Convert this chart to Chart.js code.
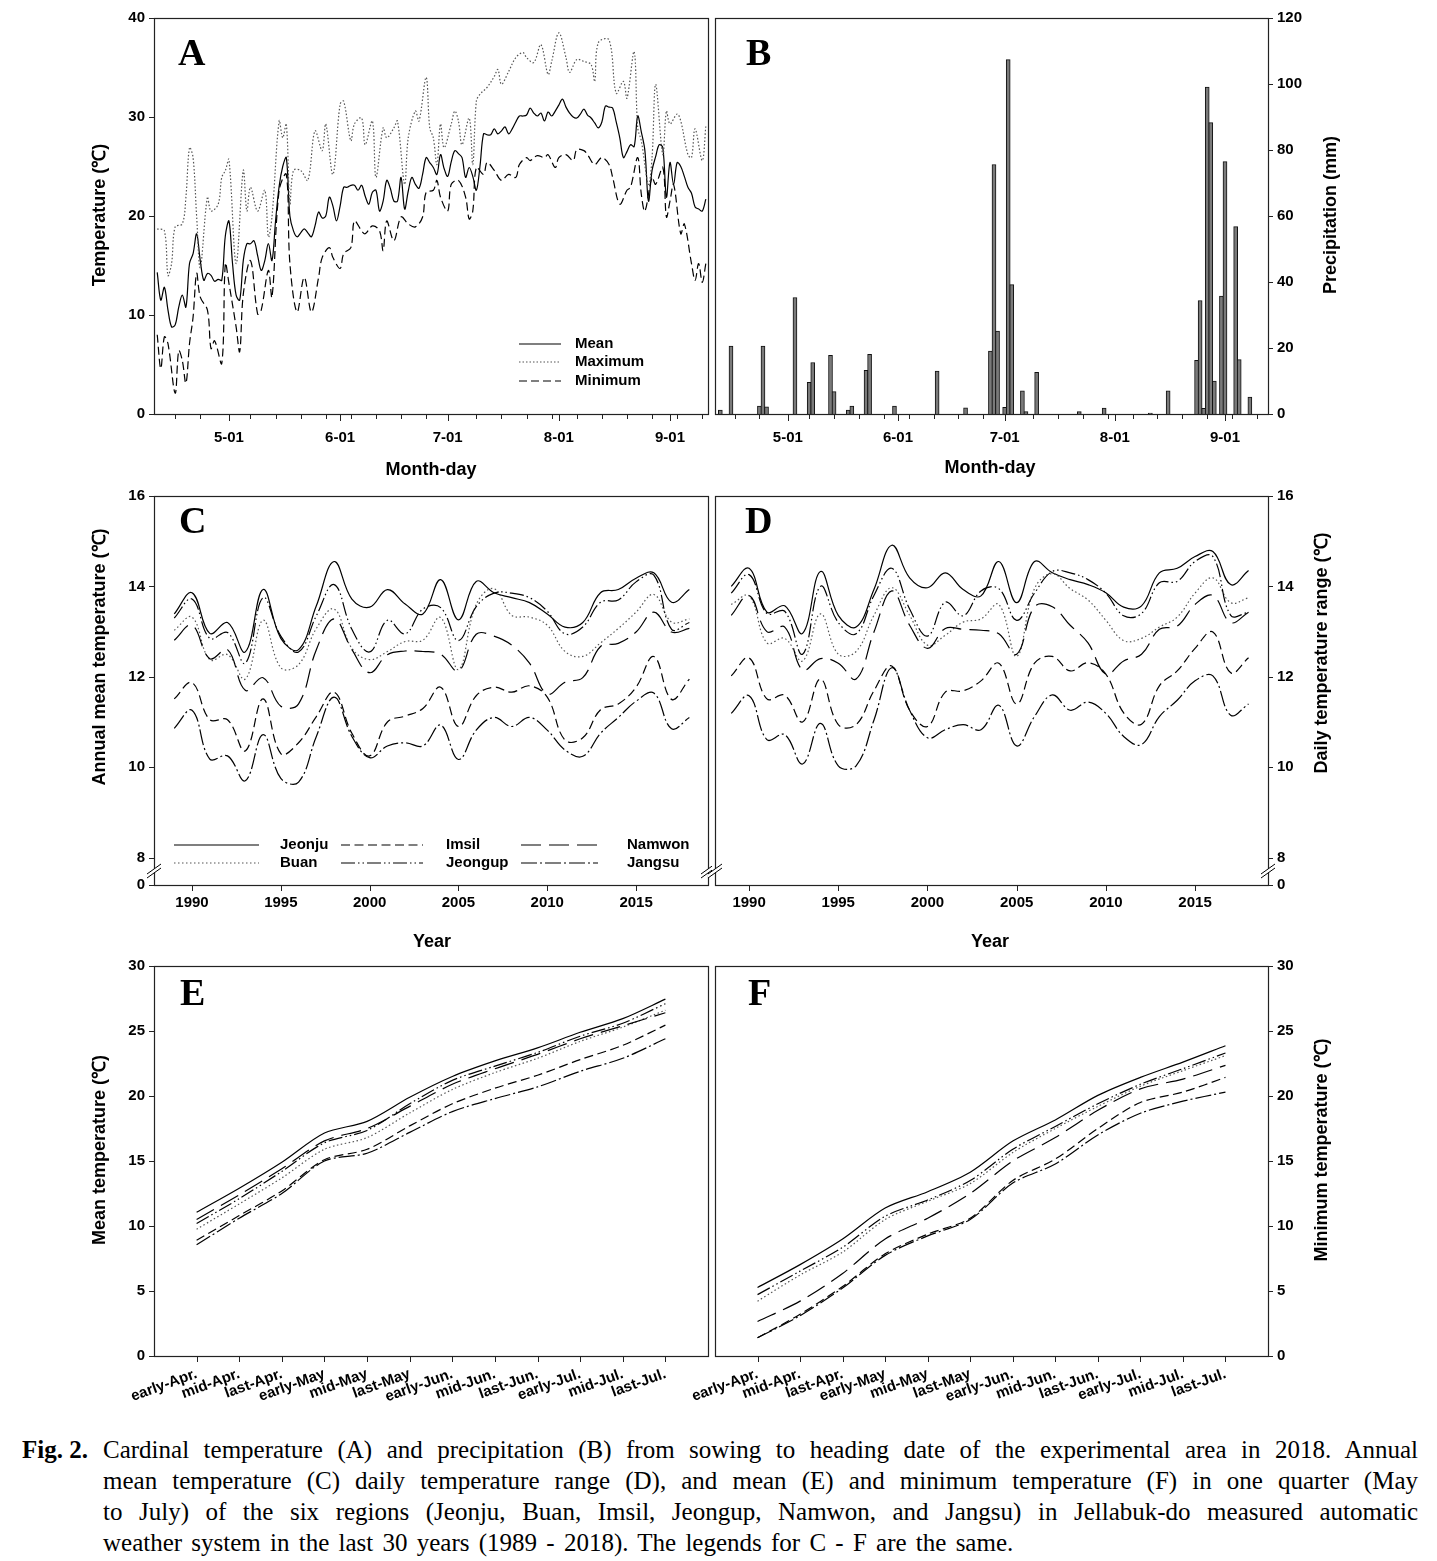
<!DOCTYPE html>
<html><head><meta charset="utf-8">
<script src="https://cdn.jsdelivr.net/npm/chart.js@4.4.1/dist/chart.umd.min.js"></script>
<style>
html,body{margin:0;padding:0;background:#fff;}
#wrap{position:relative;width:1437px;height:1561px;overflow:hidden;background:#fff;}
canvas{position:absolute;}
#cap{position:absolute;left:0;top:1434px;width:1437px;font-family:'Liberation Serif','Times New Roman',serif;font-size:25px;line-height:31px;color:#000;}
#cap .fig{position:absolute;left:22px;top:0;font-weight:bold;}
#cap .body{position:absolute;left:103px;top:0;width:1315px;}
#cap .j{text-align:justify;text-align-last:justify;white-space:nowrap;}
#cap .l{text-align:left;word-spacing:3px;white-space:nowrap;}
</style></head><body>
<div id="wrap">
<canvas id="cA" width="712" height="480" style="left:0;top:0"></canvas>
<canvas id="cB" width="757" height="480" style="left:680px;top:0"></canvas>
<canvas id="cC" width="712" height="470" style="left:0;top:478px"></canvas>
<canvas id="cD" width="757" height="470" style="left:680px;top:478px"></canvas>
<canvas id="cE" width="712" height="470" style="left:0;top:948px"></canvas>
<canvas id="cF" width="757" height="470" style="left:680px;top:948px"></canvas>
<div id="cap">
<div class="fig">Fig. 2.</div>
<div class="body">
<div class="j">Cardinal temperature (A) and precipitation (B) from sowing to heading date of the experimental area in 2018. Annual</div>
<div class="j">mean temperature (C) daily temperature range (D), and mean (E) and minimum temperature (F) in one quarter (May</div>
<div class="j">to July) of the six regions (Jeonju, Buan, Imsil, Jeongup, Namwon, and Jangsu) in Jellabuk-do measured automatic</div>
<div class="l">weather system in the last 30 years (1989 - 2018). The legends for C - F are the same.</div>
</div>
</div>
</div>
<script>
// ---------------- DATA ----------------
// Panel A: daily temperature 2018 (x = day of year)
const meanDays = [101,102,103,104,105,106,107,108,109,110,111,112,113,114,115,116,117,118,119,120,121,122,123,124,125,126,127,128,129,130,131,132,133,134,135,136,137,138,139,140,141,142,143,144,145,146,147,148,149,150,151,152,153,154,155,156,157,158,159,160,161,162,163,164,165,166,167,168,169,170,171,172,173,174,175,176,177,178,179,180,181,182,183,184,185,186,187,188,189,190,191,192,193,194,195,196,197,198,199,200,201,202,203,204,205,206,207,208,209,210,211,212,213,214,215,216,217,218,219,220,221,222,223,224,225,226,227,228,229,230,231,232,233,234,235,236,237,238,239,240,241,242,243,244,245,246,247,248,249,250,251,252,253,254];
const meanVals = [14.3,11.5,12.8,10.5,8.8,9.0,10.8,12.0,10.8,15.2,16.2,18.2,15.5,13.5,14.2,14.0,13.4,13.6,13.5,18.0,19.5,15.2,12.0,11.5,15.5,17.2,17.2,17.5,16.0,14.5,15.5,17.2,15.5,19.5,23.0,25.0,25.9,20.0,18.5,17.9,18.3,18.7,18.3,17.9,19.0,20.4,19.8,20.0,21.9,21.0,19.5,21.0,22.9,22.9,23.1,23.1,22.6,23.1,22.0,21.2,22.4,22.6,20.5,21.5,23.6,22.8,21.5,21.5,23.9,20.7,22.5,23.9,23.2,22.8,24.2,25.9,25.4,24.9,24.2,26.2,24.8,24.0,25.5,26.6,26.3,25.9,23.9,24.9,24.0,22.6,25.0,28.3,28.2,28.2,28.8,28.3,28.6,29.0,28.3,28.8,29.5,30.1,30.1,30.2,30.9,30.4,30.1,30.4,29.6,30.5,30.1,30.6,31.2,31.8,31.0,30.4,30.0,29.9,30.3,30.8,30.2,29.9,29.4,28.9,29.5,31.1,31.0,30.9,29.5,27.9,25.9,26.5,27.2,27.0,30.1,28.5,26.6,21.5,24.6,26.0,27.2,26.9,21.9,25.4,23.2,25.4,25.0,24.0,22.9,22.3,20.9,20.7,20.5,21.7];
const maxDays = [101,103,104,105,106,108,109,110,111,112,113,115,116,118,119,120,121,123,125,126,127,129,131,132,133,135,136,137,138,139,141,143,145,147,148,150,152,153,155,156,158,159,161,162,164,165,167,168,170,171,173,174,176,177,178,179,180,181,183,184,185,186,188,189,190,191,193,195,196,197,199,201,203,204,206,208,210,211,213,215,216,218,220,222,223,224,227,229,231,232,234,235,236,238,239,240,242,243,244,246,247,249,250,251,253,254];
const maxVals = [18.7,18.5,14.0,15.2,18.9,19.2,21.9,26.9,25.9,19.9,14.8,21.9,20.5,21.2,23.9,24.6,25.7,15.2,24.6,20.5,22.9,20.5,22.6,17.9,19.9,29.6,27.9,29.3,21.2,24.6,24.6,23.6,28.6,26.6,29.3,24.2,31.3,31.6,27.6,29.3,29.9,27.2,29.6,23.9,28.9,27.9,28.9,29.6,23.2,27.9,30.6,29.6,34.0,28.9,27.9,25.2,29.3,26.9,29.3,30.6,29.6,27.2,29.9,25.2,31.6,32.3,33.0,34.1,34.8,33.3,34.6,36.0,36.5,36.0,35.5,37.3,34.3,35.6,38.5,36.0,34.5,35.8,35.6,35.3,33.6,37.5,37.8,32.4,33.6,31.9,36.6,28.9,27.6,23.2,25.9,33.3,26.2,30.6,29.3,30.3,29.6,26.2,25.9,28.8,25.6,29.1];
const minDays = [101,102,103,104,106,107,108,109,110,111,112,113,115,116,117,119,120,121,123,124,125,127,129,130,132,133,135,137,138,140,142,144,146,147,149,150,152,153,155,156,158,159,161,163,164,165,167,169,171,173,175,176,178,179,180,182,183,185,187,188,189,190,192,193,195,197,199,201,202,204,205,207,209,210,212,213,215,217,218,220,221,223,225,227,228,230,232,233,235,236,237,239,240,242,243,244,245,247,248,250,251,252,253,254];
const minVals = [8.0,4.6,7.8,7.1,2.1,6.4,5.4,3.1,7.1,9.8,14.2,11.8,10.5,6.6,7.4,5.1,15.2,13.2,8.8,6.3,12.1,15.5,10.1,10.5,14.5,11.8,22.6,24.2,15.2,10.3,13.8,10.3,13.8,15.8,16.8,15.8,14.7,16.2,16.8,19.5,18.5,18.2,19.0,18.5,16.5,19.5,17.5,19.9,19.2,18.9,19.9,22.4,22.6,23.6,21.9,20.5,23.2,23.6,21.9,19.7,20.5,24.9,24.2,25.4,24.6,23.6,24.2,23.9,25.2,25.9,25.6,26.1,25.9,26.2,24.9,25.9,26.2,25.6,26.7,26.6,26.2,25.2,25.9,25.2,23.9,21.2,22.6,22.9,25.9,22.2,20.5,23.9,23.2,24.9,19.9,21.5,23.2,18.2,19.2,15.2,13.5,15.2,13.3,15.2];
const monthDays = [121,152,182,213,244];
const monthLabels = ['5-01','6-01','7-01','8-01','9-01'];
const weekDays = [106,113,127,134,141,148,155,162,169,176,190,197,204,211,218,225,232,239,246,253];

// Panel B: daily precipitation (mm)
const rainDays = [102,105,113,114,115,123,127,128,133,134,138,139,143,144,151,163,171,178,179,180,182,183,184,187,188,191,203,210,223,228,236,237,238,239,240,241,243,244,247,248,251];
const rainMm = [1.2,20.6,2.4,20.6,2.2,35.3,9.6,15.6,17.8,6.8,1.2,2.4,13.2,18.1,2.4,13.0,1.9,19.1,75.6,25.1,2.0,107.4,39.2,7.0,0.7,12.6,0.7,1.8,0.3,7.0,16.3,34.4,1.7,99.1,88.3,10.0,35.7,76.5,56.8,16.5,5.1];

// Panels C-D: 1989-2018
const years = [1989,1990,1991,1992,1993,1994,1995,1996,1997,1998,1999,2000,2001,2002,2003,2004,2005,2006,2007,2008,2009,2010,2011,2012,2013,2014,2015,2016,2017,2018];
const yearTicks = [1990,1995,2000,2005,2010,2015];
const regions = ['Jeonju','Buan','Imsil','Jeongup','Namwon','Jangsu'];
// C: annual mean temperature
const cJeonju  = [13.39,13.86,12.96,13.2,12.55,13.93,12.85,12.6,13.57,14.55,13.72,13.54,13.93,13.61,13.39,14.15,13.26,14.11,13.86,13.75,13.64,13.39,13.1,13.2,13.86,13.93,14.18,14.3,13.65,13.93];
const cBuan    = [13.03,13.32,12.38,12.49,11.95,13.25,12.2,12.27,13.07,13.5,12.63,12.38,12.56,12.78,12.81,13.31,12.16,13.6,13.95,13.36,13.32,13.14,12.56,12.45,12.75,13.07,13.43,13.82,13.21,13.28];
const cImsil   = [11.51,11.87,11.05,11.05,10.36,11.51,10.3,10.54,11.12,11.66,10.75,10.25,11.0,11.13,11.3,11.77,10.9,11.58,11.77,11.66,11.8,11.55,10.6,10.65,11.27,11.4,11.77,12.45,11.5,11.95];
const cJeongup = [13.3,13.72,12.85,12.98,12.3,13.75,12.9,12.55,13.35,14.04,13.05,12.55,13.25,12.95,13.5,13.53,12.8,13.55,13.85,13.85,13.75,13.45,12.95,13.1,13.65,13.7,14.1,14.25,13.05,13.2];
const cNamwon  = [12.81,13.14,12.4,12.6,11.7,11.98,11.35,11.4,12.6,13.28,12.6,12.09,12.49,12.57,12.56,12.5,12.13,12.94,12.9,12.7,12.3,11.62,11.88,11.98,12.67,12.74,12.99,13.43,12.99,13.07];
const cJangsu  = [10.86,11.26,10.18,10.25,9.7,10.72,9.75,9.67,10.68,11.55,10.68,10.21,10.47,10.54,10.47,10.93,10.17,10.82,11.1,10.9,11.1,10.82,10.38,10.24,10.75,11.1,11.46,11.64,10.85,11.1];
// D: daily temperature range
const dJeonju  = [14.0,14.4,13.43,13.57,12.96,14.33,13.36,13.1,13.93,14.91,14.19,13.97,14.3,13.93,13.79,14.55,13.64,14.55,14.3,14.15,14.04,13.86,13.54,13.57,14.3,14.4,14.66,14.77,14.04,14.35];
const dBuan    = [13.6,13.79,12.75,12.85,12.35,13.39,12.5,12.56,13.36,13.97,13.36,12.7,12.92,13.21,13.28,13.6,12.45,13.95,14.28,13.95,13.7,13.25,12.8,12.85,13.1,13.32,13.85,14.19,13.64,13.75];
const dImsil   = [12.02,12.42,11.51,11.59,11.0,11.95,10.94,10.94,11.69,12.24,11.26,10.9,11.66,11.69,11.91,12.3,11.4,12.3,12.45,12.13,12.31,12.06,11.2,10.95,11.8,12.13,12.63,12.99,12.09,12.42];
const dJeongup = [13.85,14.26,13.4,13.45,12.5,14.0,13.2,12.95,13.8,14.4,13.5,12.9,13.65,13.35,13.9,13.95,13.25,13.85,14.33,14.3,14.15,13.85,13.35,13.4,14.08,14.11,14.55,14.66,13.36,13.43];
const dNamwon  = [13.36,13.8,13.0,13.1,12.15,12.4,12.3,11.95,12.99,13.9,13.14,12.63,13.07,13.05,13.03,12.95,12.5,13.55,13.55,13.14,12.75,12.06,12.35,12.5,13.05,13.12,13.6,13.8,13.2,13.43];
const dJangsu  = [11.19,11.58,10.61,10.72,10.07,10.97,10.03,10.03,11.04,12.2,11.26,10.65,10.83,10.94,10.83,11.37,10.47,11.12,11.6,11.26,11.44,11.19,10.68,10.5,11.12,11.48,11.91,12.02,11.15,11.4];

// Panels E-F: ten-day periods
const periods = ['early-Apr.','mid-Apr.','last-Apr.','early-May','mid-May','last-May','early-Jun.','mid-Jun.','last-Jun.','early-Jul.','mid-Jul.','last-Jul.'];
const eJeonju  = [11.05,12.9,14.9,17.15,18.05,19.9,21.5,22.7,23.7,24.9,25.95,27.45];
const eBuan    = [9.75,11.7,13.7,15.9,16.8,18.7,20.5,21.8,22.9,24.2,25.3,26.6];
const eImsil   = [8.9,10.8,12.7,15.1,15.9,17.7,19.4,20.6,21.6,22.8,23.9,25.45];
const eJeongup = [10.2,12.1,14.2,16.4,17.35,19.4,21.2,22.3,23.35,24.6,25.6,27.1];
const eNamwon  = [10.5,12.4,14.4,16.55,17.5,19.2,20.9,22.1,23.2,24.4,25.4,26.4];
const eJangsu  = [8.55,10.6,12.5,15.0,15.6,17.2,18.8,19.8,20.7,21.9,22.9,24.4];
const fJeonju  = [5.27,7.03,9.0,11.38,12.64,14.14,16.53,18.16,20.05,21.43,22.61,23.87];
const fBuan    = [4.22,6.23,7.99,10.5,11.9,13.26,15.65,17.5,19.2,20.75,21.95,23.11];
const fImsil   = [1.4,3.21,5.35,7.86,9.37,10.6,13.5,15.15,17.5,19.5,20.3,21.43];
const fJeongup = [4.72,6.53,8.36,10.75,12.0,13.5,15.9,17.66,19.4,20.9,22.1,23.31];
const fNamwon  = [2.66,4.22,6.35,9.0,10.6,12.5,15.0,16.8,18.9,20.55,21.3,22.36];
const fJangsu  = [1.4,3.1,5.23,7.74,9.24,10.5,13.3,14.77,17.0,18.67,19.6,20.3];

// ---------------- STYLE ----------------
const SANS = "'Liberation Sans', Arial, Helvetica, sans-serif";
const SERIF = "'Liberation Serif', 'Times New Roman', serif";
const TICKFONT = {family: SANS, size: 15, weight: 'bold'};
const TITLEFONT = 'bold 18px ' + SANS;
const STY = {
  Jeonju:  {color:'#000', dash:[]},
  Buan:    {color:'#555', dash:[1.5,2.5]},
  Imsil:   {color:'#000', dash:[9,4.5]},
  Jeongup: {color:'#000', dash:[14,3,1.5,3,1.5,3]},
  Namwon:  {color:'#000', dash:[20,8]},
  Jangsu:  {color:'#000', dash:[16,3,2,3]}
};
const ASTY = {
  Mean: {color:'#000', dash:[]},
  Maximum: {color:'#555', dash:[1.5,2]},
  Minimum: {color:'#000', dash:[8,4]}
};

function lineDs(xs, ys, st, tension) {
  return {data: xs.map((x,i)=>({x:x, y:ys[i]})), borderColor: st.color, borderDash: st.dash,
          borderWidth: 1.2, pointRadius: 0, fill: false, tension: tension};
}

function strokeSample(ctx, x1, x2, y, st) {
  ctx.save(); ctx.strokeStyle = st.color; ctx.lineWidth = 1.2; ctx.setLineDash(st.dash);
  ctx.beginPath(); ctx.moveTo(x1, y); ctx.lineTo(x2, y); ctx.stroke(); ctx.restore();
}

function decor(cfg) {
  return {id: 'decor', afterDraw(chart) {
    const ctx = chart.ctx, ca = chart.chartArea, xs = chart.scales.x, ys = chart.scales.y;
    const ox = cfg.ox, oy = cfg.oy;
    ctx.save();
    ctx.setLineDash([]);
    ctx.strokeStyle = '#222'; ctx.lineWidth = 1.2;
    ctx.strokeRect(Math.round(ca.left)+0.5, Math.round(ca.top)+0.5, Math.round(ca.right-ca.left), Math.round(ca.bottom-ca.top));
    const side = cfg.ySide === 'right' ? ca.right : ca.left;
    const dir = cfg.ySide === 'right' ? 1 : -1;
    ctx.lineWidth = 1;
    ctx.beginPath();
    cfg.yTicks.forEach(v => { const y = Math.round(ys.getPixelForValue(v)) + 0.5; ctx.moveTo(side, y); ctx.lineTo(side + dir*5, y); });
    (cfg.xMajor||[]).forEach(v => { const x = Math.round(xs.getPixelForValue(v)) + 0.5; ctx.moveTo(x, ca.bottom); ctx.lineTo(x, ca.bottom + cfg.majorLen); });
    (cfg.xMinor||[]).forEach(v => { const x = Math.round(xs.getPixelForValue(v)) + 0.5; ctx.moveTo(x, ca.bottom); ctx.lineTo(x, ca.bottom + cfg.minorLen); });
    ctx.stroke();
    (cfg.breaks||[]).forEach(bx => {
      const x = bx - ox, y = cfg.breakY - oy;
      ctx.fillStyle = '#fff';
      ctx.beginPath(); ctx.moveTo(x-7, y+3); ctx.lineTo(x+7, y-7); ctx.lineTo(x+7, y-3); ctx.lineTo(x-7, y+7); ctx.closePath(); ctx.fill();
      ctx.strokeStyle = '#000'; ctx.lineWidth = 1;
      ctx.beginPath(); ctx.moveTo(x-7, y+3); ctx.lineTo(x+7, y-7); ctx.moveTo(x-7, y+7); ctx.lineTo(x+7, y-3); ctx.stroke();
    });
    ctx.fillStyle = '#000';
    ctx.font = 'bold 38px ' + SERIF; ctx.textAlign = 'left'; ctx.textBaseline = 'alphabetic';
    ctx.fillText(cfg.letter, cfg.letterX - ox, cfg.letterY - oy);
    ctx.font = TITLEFONT;
    if (cfg.xTitle) { ctx.textAlign = 'center'; ctx.textBaseline = 'middle'; ctx.fillText(cfg.xTitle, cfg.xTitleX - ox, cfg.xTitleY - oy); }
    if (cfg.yTitle) {
      ctx.save(); ctx.translate(cfg.yTitleX - ox, cfg.yTitleY - oy); ctx.rotate(-Math.PI/2);
      ctx.textAlign = 'center'; ctx.textBaseline = 'middle'; ctx.fillText(cfg.yTitle, 0, 0); ctx.restore();
    }
    if (cfg.legend) cfg.legend(ctx, ox, oy);
    ctx.restore();
  }};
}

function baseOpts(pad, xOpt, yOpt) {
  return {responsive: false, animation: false, devicePixelRatio: 1,
    layout: {padding: pad},
    plugins: {legend: {display: false}, tooltip: {enabled: false}},
    scales: {x: xOpt, y: yOpt}};
}
function xLinear(min, max, tickVals, labelFn, height, padding, rot) {
  return {type: 'linear', min: min, max: max, offset: false,
    grid: {display: false, drawTicks: false, offset: false}, border: {display: false},
    afterBuildTicks: s => { s.ticks = tickVals.map(v => ({value: v})); },
    afterFit: s => { s.height = height; },
    ticks: {autoSkip: false, minRotation: rot||0, maxRotation: rot||0, padding: padding, color: '#000', font: TICKFONT,
      callback: v => labelFn(v)}};
}
function yLinear(pos, min, max, tickVals, labelFn, width) {
  return {type: 'linear', position: pos, min: min, max: max,
    grid: {display: false, drawTicks: false}, border: {display: false},
    afterBuildTicks: s => { s.ticks = tickVals.map(v => ({value: v})); },
    afterFit: s => { s.width = width; },
    ticks: {autoSkip: false, padding: 9, color: '#000', font: TICKFONT, callback: v => labelFn(v)}};
}

// ---------------- PANEL A ----------------
const aTicksY = [0,10,20,30,40];
new Chart(document.getElementById('cA'), {
  type: 'line',
  data: {datasets: [
    lineDs(maxDays, maxVals, ASTY.Maximum, 0.35),
    lineDs(minDays, minVals, ASTY.Minimum, 0.35),
    lineDs(meanDays, meanVals, ASTY.Mean, 0.35)
  ]},
  options: baseOpts({left: 0, top: 17, right: 4, bottom: 0},
    xLinear(100.1, 254.6, monthDays, v => monthLabels[monthDays.indexOf(v)], 66, 15),
    yLinear('left', 0, 40, aTicksY, v => String(v), 154)),
  plugins: [decor({ox: 0, oy: 0, ySide: 'left', yTicks: aTicksY, xMajor: monthDays, xMinor: weekDays, majorLen: 7, minorLen: 5,
    letter: 'A', letterX: 178, letterY: 65, xTitle: 'Month-day', xTitleX: 431, xTitleY: 470,
    yTitle: 'Temperature (\u2103)', yTitleX: 100, yTitleY: 215,
    legend: (ctx, ox, oy) => {
      const items = [['Mean', 344], ['Maximum', 362], ['Minimum', 381]];
      ctx.font = 'bold 15px ' + SANS; ctx.textAlign = 'left'; ctx.textBaseline = 'middle'; ctx.fillStyle = '#000';
      items.forEach(it => { strokeSample(ctx, 519-ox, 561-ox, it[1]-oy, ASTY[it[0]]); ctx.fillText(it[0], 575-ox, it[1]-oy); });
    }})]
});

// ---------------- PANEL B ----------------
const bTicksY = [0,20,40,60,80,100,120];
new Chart(document.getElementById('cB'), {
  type: 'bar',
  data: {datasets: [{data: rainDays.map((d,i)=>({x: d, y: rainMm[i]})), backgroundColor: '#7a7a7a', borderColor: '#111',
    borderWidth: 1, barThickness: 4}]},
  options: baseOpts({left: 35, top: 17, right: 0, bottom: 0},
    xLinear(100.5, 256.1, monthDays, v => monthLabels[monthDays.indexOf(v)], 66, 15),
    yLinear('right', 0, 120, bTicksY, v => String(v), 169)),
  plugins: [decor({ox: 680, oy: 0, ySide: 'right', yTicks: bTicksY, xMajor: monthDays, xMinor: weekDays, majorLen: 7, minorLen: 5,
    letter: 'B', letterX: 746, letterY: 65, xTitle: 'Month-day', xTitleX: 990, xTitleY: 468,
    yTitle: 'Precipitation (mm)', yTitleX: 1331, yTitleY: 215})]
});

// ---------------- PANELS C, D ----------------
const cdTicksY = [7.393, 8, 10, 12, 14, 16];
const cdLabel = v => (v < 7.9 ? '0' : String(v));
function cdDatasets(arrs) {
  return regions.map((r, i) => lineDs(years, arrs[i], STY[r], 0.4)).reverse();
}
new Chart(document.getElementById('cC'), {
  type: 'line',
  data: {datasets: cdDatasets([cJeonju, cBuan, cImsil, cJeongup, cNamwon, cJangsu])},
  options: baseOpts({left: 0, top: 10, right: 4, bottom: 0},
    xLinear(1987.86, 2019.05, yearTicks, v => String(v), 63, 9),
    yLinear('left', 7.393, 16, cdTicksY, cdLabel, 154)),
  plugins: [decor({ox: 0, oy: 478, ySide: 'left', yTicks: cdTicksY, xMajor: yearTicks, majorLen: 6,
    letter: 'C', letterX: 179, letterY: 533, xTitle: 'Year', xTitleX: 432, xTitleY: 942,
    yTitle: 'Annual mean temperature (\u2103)', yTitleX: 100, yTitleY: 657,
    breaks: [154, 708], breakY: 871,
    legend: (ctx, ox, oy) => {
      const rows = [[['Jeonju',174,259,280], ['Imsil',341,423,446], ['Namwon',521,598,627]],
                    [['Buan',174,259,280], ['Jeongup',341,423,446], ['Jangsu',521,598,627]]];
      const ysL = [845, 863];
      ctx.font = 'bold 15px ' + SANS; ctx.textAlign = 'left'; ctx.textBaseline = 'middle'; ctx.fillStyle = '#000';
      rows.forEach((row, ri) => row.forEach(it => {
        strokeSample(ctx, it[1]-ox, it[2]-ox, ysL[ri]-oy, STY[it[0]]);
        ctx.fillText(it[0], it[3]-ox, ysL[ri]-oy);
      }));
    }})]
});
new Chart(document.getElementById('cD'), {
  type: 'line',
  data: {datasets: cdDatasets([dJeonju, dBuan, dImsil, dJeongup, dNamwon, dJangsu])},
  options: baseOpts({left: 35, top: 10, right: 0, bottom: 0},
    xLinear(1988.09, 2019.09, yearTicks, v => String(v), 63, 9),
    yLinear('right', 7.393, 16, cdTicksY, cdLabel, 169)),
  plugins: [decor({ox: 680, oy: 478, ySide: 'right', yTicks: cdTicksY, xMajor: yearTicks, majorLen: 6,
    letter: 'D', letterX: 745, letterY: 533, xTitle: 'Year', xTitleX: 990, xTitleY: 942,
    yTitle: 'Daily temperature range (\u2103)', yTitleX: 1322, yTitleY: 653,
    breaks: [715, 1268], breakY: 871})]
});

// ---------------- PANELS E, F ----------------
const efTicksY = [0,5,10,15,20,25,30];
const idx = periods.map((p, i) => i);
function efDatasets(arrs) {
  return regions.map((r, i) => lineDs(idx, arrs[i], STY[r], 0.3)).reverse();
}
new Chart(document.getElementById('cE'), {
  type: 'line',
  data: {datasets: efDatasets([eJeonju, eBuan, eImsil, eJeongup, eNamwon, eJangsu])},
  options: baseOpts({left: 0, top: 10, right: 4, bottom: 0},
    xLinear(-1, 12, idx, v => periods[v], 62, 9, 20),
    yLinear('left', 0, 30, efTicksY, v => String(v), 154)),
  plugins: [decor({ox: 0, oy: 948, ySide: 'left', yTicks: efTicksY, xMajor: idx, majorLen: 6,
    letter: 'E', letterX: 180, letterY: 1005,
    yTitle: 'Mean temperature (\u2103)', yTitleX: 100, yTitleY: 1150})]
});
new Chart(document.getElementById('cF'), {
  type: 'line',
  data: {datasets: efDatasets([fJeonju, fBuan, fImsil, fJeongup, fNamwon, fJangsu])},
  options: baseOpts({left: 35, top: 10, right: 0, bottom: 0},
    xLinear(-1, 12, idx, v => periods[v], 62, 9, 20),
    yLinear('right', 0, 30, efTicksY, v => String(v), 169)),
  plugins: [decor({ox: 680, oy: 948, ySide: 'right', yTicks: efTicksY, xMajor: idx, majorLen: 6,
    letter: 'F', letterX: 748, letterY: 1005,
    yTitle: 'Minimum temperature (\u2103)', yTitleX: 1322, yTitleY: 1150})]
});
</script>
</body></html>
